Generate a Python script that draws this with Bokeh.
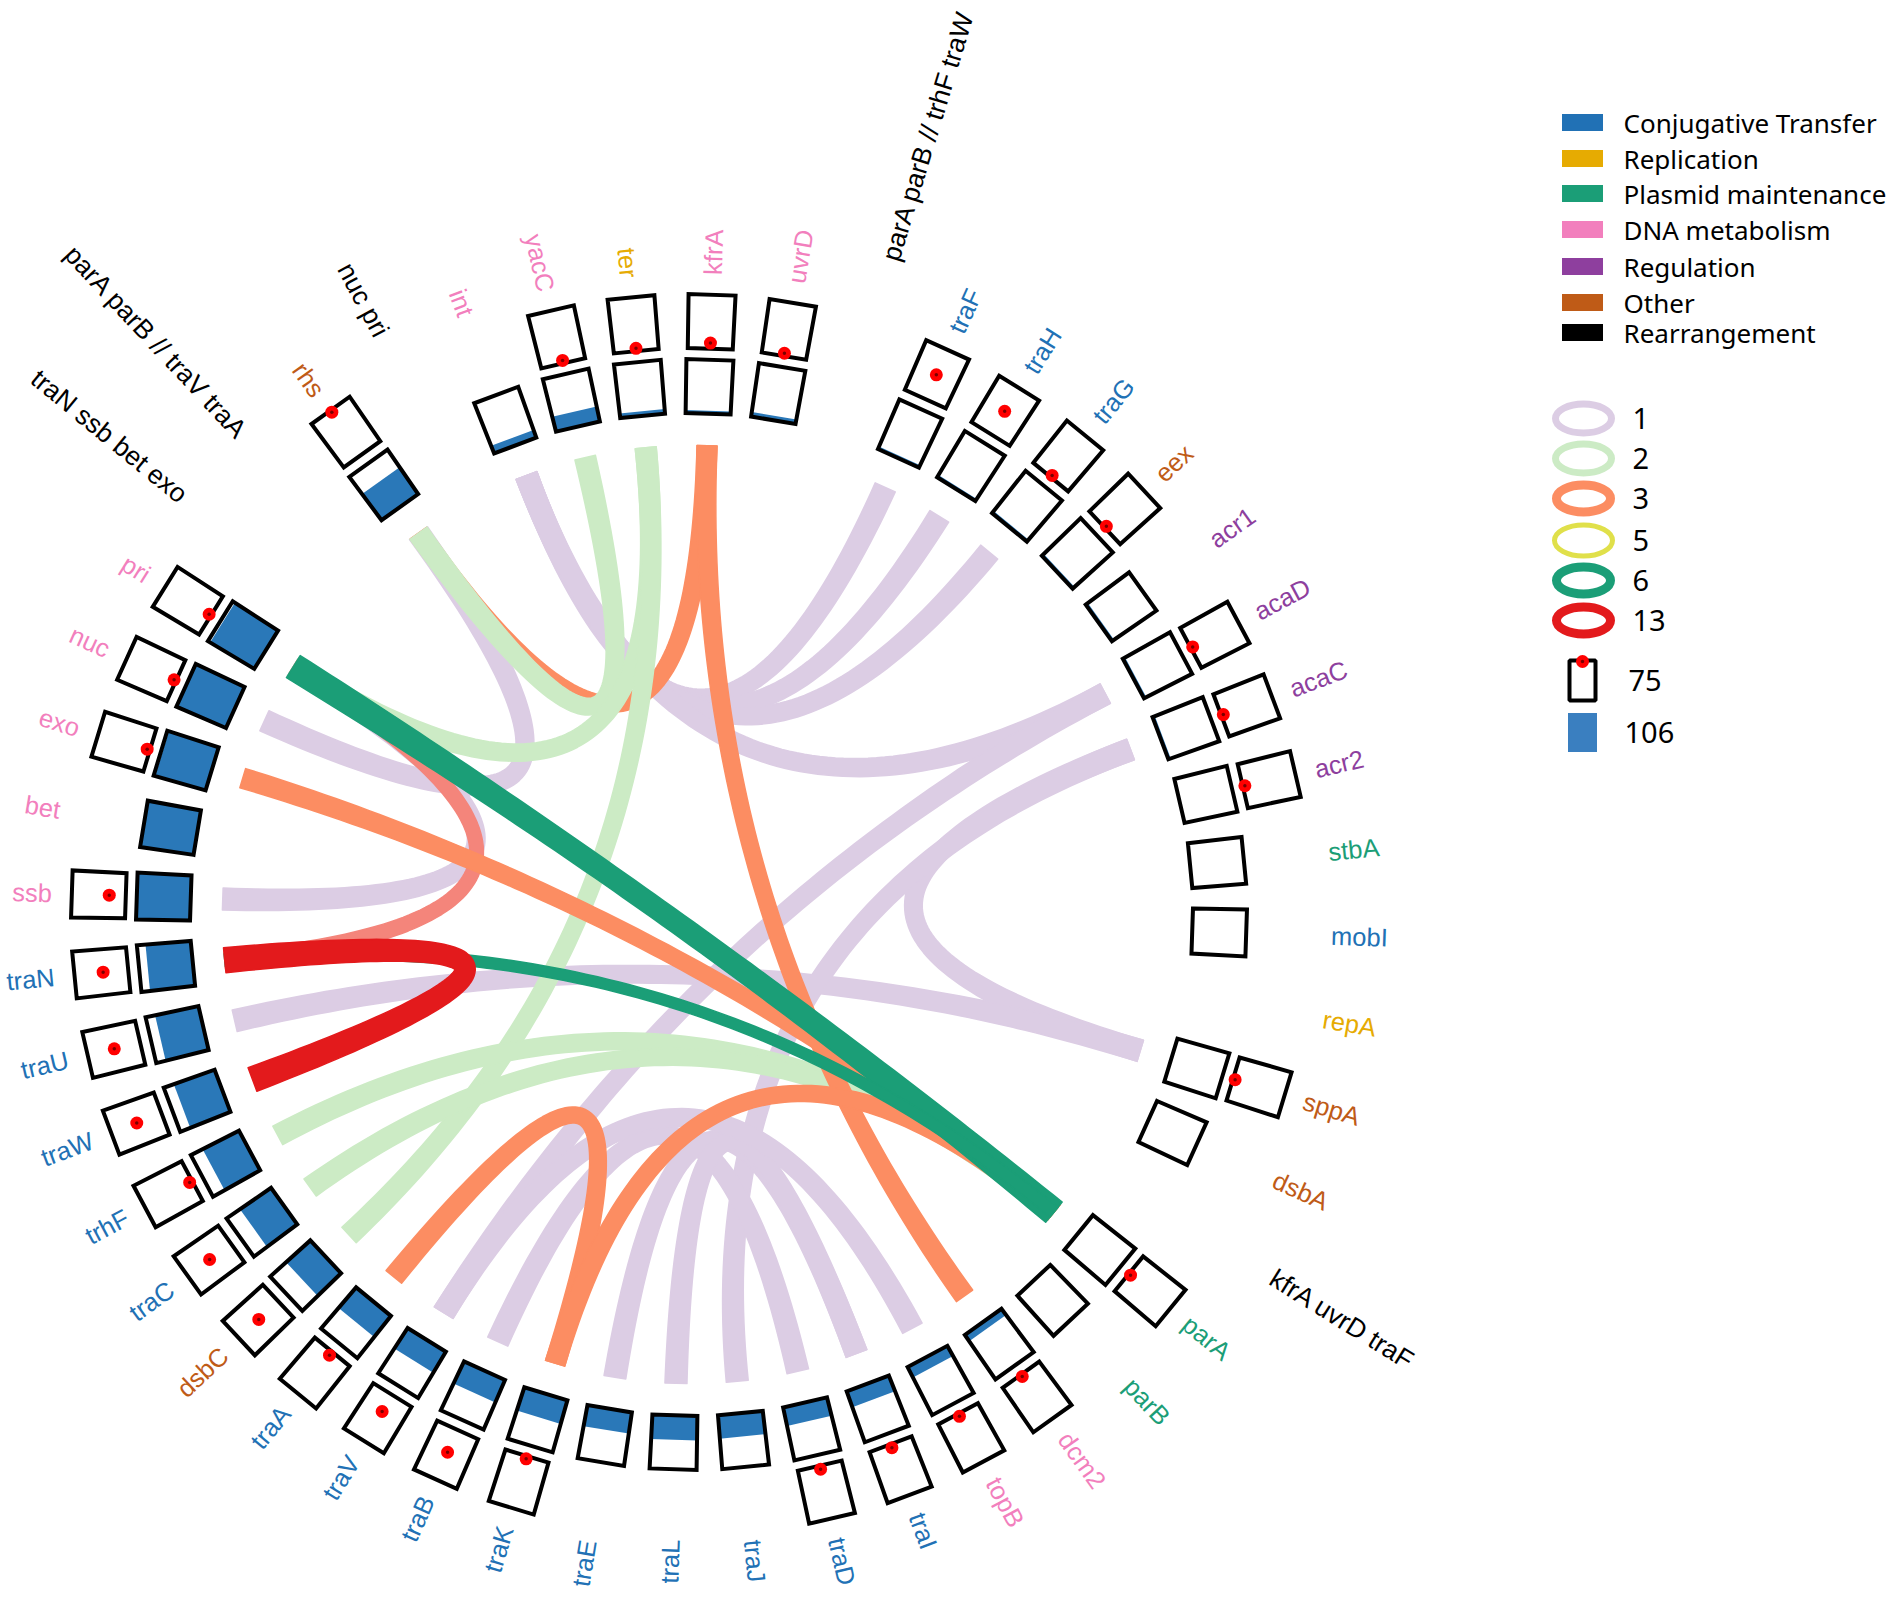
import math
import numpy as np
from bokeh.plotting import figure
from bokeh.models import Range1d, ColumnDataSource
from bokeh.embed import file_html
from bokeh.resources import INLINE
from bokeh.core.properties import value

# ---------------- data ----------------
slots = ["int", "yacC", "ter", "kfrA", "uvrD", "parA parB // trhF traW",
         "traF", "traH", "traG", "eex", "acr1", "acaD", "acaC", "acr2", "stbA",
         "mobI", "repA", "sppA", "dsbA", "kfrA uvrD traF", "parA", "parB",
         "dcm2", "topB", "traI", "traD", "traJ", "traL", "traE", "traK", "traB",
         "traV", "traA", "dsbC", "traC", "trhF", "traW", "traU", "traN", "ssb",
         "bet", "exo", "nuc", "pri", "traN ssb bet exo", "parA parB // traV traA",
         "rhs", "nuc pri"]
slot_cat = ["D", "D", "R", "D", "D", "X",
            "C", "C", "C", "O", "G", "G", "G", "G", "P",
            "C", "R", "O", "O", "X", "P", "P",
            "D", "D", "C", "C", "C", "C", "C", "C", "C",
            "C", "C", "O", "C", "C", "C", "C", "C", "D",
            "D", "D", "D", "D", "X", "X",
            "O", "X"]
# inner box: filled share (out of 106); None = no box
inner_count = [16, 30, 9, 6, 9, None,
               5, 5, 5, 5, 5, 5, 5, 2, 1,
               1, None, 1, 1, None, 2, 2,
               15, 23, 33, 37, 46, 48, 42, 48, 48,
               48, 53, 64, 74, 80, 85, 87, 89, 106,
               106, 103, 104, 101, None, None,
               64, None]
# outer box: red point value (out of 75); None = no box
outer_dot = [None, 4, 4, 8, 4, None,
             37, 37, 3, 3, None, 3, 3, 3, None,
             None, None, 3, None, None, 3, None,
             3, 4, 5, 5, None, None, None, 4, 34,
             27, 6, 37, 37, 4, 37, 37, 35, 23,
             None, 4, 3, 3, None, None,
             72, None]

links_1 = [("int", "traF"), ("int", "traH"), ("int", "traG"), ("int", "acaD"),
           ("acaC", "sppA"), ("sppA", "traU"), ("nuc", "rhs"), ("ssb", "pri"),
           ("acaD", "traV"), ("acaC", "traJ"), ("traB", "traD"), ("traE", "traI"),
           ("traL", "traI"), ("topB", "traV")]
links_2 = [("rhs", "yacC"), ("ter", "pri"), ("ter", "dsbC"), ("trhF", "parA"),
           ("traC", "parA")]
links_3_under = [("kfrA", "rhs")]
links_3 = [("exo", "parA"), ("kfrA", "dcm2"), ("traA", "traK"), ("traK", "parA")]
links_13_light = [("traN", "pri")]
links_6 = [("pri", "parA"), ("traN", "parA")]
links_13 = [("traN", "traW")]

cat_names = ["Conjugative Transfer", "Replication", "Plasmid maintenance",
             "DNA metabolism", "Regulation", "Other", "Rearrangement"]
cat_codes = ["C", "R", "P", "D", "G", "O", "X"]
link_counts = ["1", "2", "3", "5", "6", "13"]
box_legend = ["75", "106"]

# ---------------- style ----------------
cat_colors = {"C": "#2171b5", "R": "#e6ab02", "P": "#1b9e77", "D": "#f27fbd",
              "G": "#8e3f9e", "O": "#bf5b17", "X": "#000000"}
link_colors = ["#dccde4", "#ccebc5", "#fc8d62", "#e0e04a", "#1b9e77", "#e31a1c"]
link_ring_w = [7, 7, 9, 5, 9, 9]
BLUE = "#2a78b8"
CX, CY = 691, 914
THETA0, STEP = 110.6, 7.5
R_LINK = 469
R_IN = (501, 555)
R_OUT = (566, 620)
R_LABEL = 640
HW = 22.5
FONT = "Liberation Sans"
LFONT = "Noto Sans"
GENE_FS = 25.5
REAR_FS = 26.5

W, H = 1886, 1590
p = figure(width=W, height=H, output_backend="svg", toolbar_location=None,
           x_range=Range1d(-CX, W - CX), y_range=Range1d(CY - H, CY),
           min_border=0)
p.axis.visible = False
p.grid.visible = False
p.outline_line_color = None
p.background_fill_color = "white"
p.border_fill_color = "white"

idx = {n: i for i, n in enumerate(slots)}


def ang(name):
    return math.radians(THETA0 - STEP * idx[name])


def X(refx):
    return refx - CX


def Y(refy):
    return CY - refy


def ribbon(a, b, w, k=0.8, n=80):
    P0 = np.array([R_LINK * math.cos(a), R_LINK * math.sin(a)])
    P2 = np.array([R_LINK * math.cos(b), R_LINK * math.sin(b)])
    t = np.linspace(0, 1, n)[:, None]
    B = (1 - t) ** 2 * P0 + t ** 2 * P2
    dB = -2 * (1 - t) * P0 + 2 * t * P2
    nrm = np.hypot(dB[:, 0], dB[:, 1])[:, None]
    N = np.hstack([-dB[:, 1:2], dB[:, 0:1]]) / nrm
    wt = w * (1 - (1 - k) * np.sin(np.pi * t))
    L = B + N * wt / 2
    R = B - N * wt / 2
    poly = np.vstack([L, R[::-1]])
    return list(poly[:, 0]), list(poly[:, 1])


# ---- links ----
groups = [(links_1, link_colors[0], 22, None),
          (links_3_under, link_colors[2], 20, None),
          (links_2, link_colors[1], 21, None),
          (links_13_light, "#f4857b", 17, None),
          (links_3, link_colors[2], 20, None),
          (links_6, link_colors[4], 20, {("pri", "parA"): 26, ("traN", "parA"): 13}),
          (links_13, link_colors[5], 25, None)]
for links, col, w, over in groups:
    xs, ys = [], []
    for a, b in links:
        ww = over.get((a, b), w) if over else w
        px, py = ribbon(ang(a), ang(b), ww)
        xs.append(px)
        ys.append(py)
    p.patches(xs, ys, fill_color=col, line_color=col, line_width=1.5, line_join="round")

# ---- boxes ----


def boxpoly(th, r1, r2, h1=HW, h2=HW + 1):
    ux, uy = math.cos(th), math.sin(th)
    tx, ty = -math.sin(th), math.cos(th)
    pts = [(r1 * ux + h1 * tx, r1 * uy + h1 * ty), (r2 * ux + h2 * tx, r2 * uy + h2 * ty),
           (r2 * ux - h2 * tx, r2 * uy - h2 * ty), (r1 * ux - h1 * tx, r1 * uy - h1 * ty)]
    return [q[0] for q in pts], [q[1] for q in pts]


bx, by, fx, fy, dx, dy = [], [], [], [], [], []
for i, name in enumerate(slots):
    th = math.radians(THETA0 - STEP * i)
    if inner_count[i] is not None:
        xx, yy = boxpoly(th, *R_IN)
        bx.append(xx); by.append(yy)
        if inner_count[i] > 0:
            frac = inner_count[i] / 106
            r2 = R_IN[0] + (R_IN[1] - R_IN[0]) * frac
            xx, yy = boxpoly(th, R_IN[0], r2, HW, HW + frac)
            fx.append(xx); fy.append(yy)
    if outer_dot[i] is not None:
        xx, yy = boxpoly(th, *R_OUT)
        bx.append(xx); by.append(yy)
        r = R_OUT[0] + (R_OUT[1] - R_OUT[0]) * outer_dot[i] / 75
        dx.append(r * math.cos(th)); dy.append(r * math.sin(th))

p.patches(bx, by, fill_color="white", line_color=None)
p.patches(fx, fy, fill_color=BLUE, line_color=None)
p.patches(bx, by, fill_color=None, line_color="black", line_width=4, line_join="miter")
p.scatter(dx, dy, size=13, marker="circle", fill_color="#ff0000", line_color=None)
p.scatter(dx, dy, size=3.5, marker="circle", fill_color="#7a0000", line_color=None)

# ---- labels ----
bottom_limit = CY - H + 4   # keep rotated labels inside the frame
for align in ("left", "right"):
    for is_r in (False, True):
        tx, ty, tt, ta, tc = [], [], [], [], []
        for i, name in enumerate(slots):
            deg = (THETA0 - STEP * i) % 360
            right = deg <= 90 or deg > 270
            if (align == "left") != right or (slot_cat[i] == "X") != is_r:
                continue
            r = (684 if right else 657) if is_r else R_LABEL
            th = math.radians(deg)
            s = math.sin(th)
            if s < -0.5:
                est_w = 0.46 * GENE_FS * len(name)
                r = min(r, bottom_limit / s - est_w)
            tx.append(r * math.cos(th)); ty.append(r * s)
            tt.append(name)
            ta.append(th if right else th - math.pi)
            tc.append(cat_colors[slot_cat[i]])
        src = ColumnDataSource(dict(x=tx, y=ty, text=tt, angle=ta, color=tc))
        p.text("x", "y", text="text", angle="angle", text_color="color", source=src,
               text_align=align, text_baseline="middle", text_font=value(FONT),
               text_font_size=f"{REAR_FS if is_r else GENE_FS}px")

# ---- legend ----
leg_y = [122, 158, 193, 229, 266, 302, 332]
p.rect([X(1582)] * 7, [Y(v) for v in leg_y], width=41, height=17,
       fill_color=[cat_colors[c] for c in cat_codes], line_color=None)
p.text([X(1623)] * 7, [Y(v) for v in leg_y], text=cat_names, text_baseline="middle",
       text_font=value(LFONT), text_font_size="26px", text_color="#000000")

ring_y = [418, 458, 498, 540, 580, 620]
for yy, col, lw in zip(ring_y, link_colors, link_ring_w):
    p.ellipse(X(1583), Y(yy), width=63 - lw, height=36 - lw, fill_color=None,
              line_color=col, line_width=lw)
p.text([X(1632)] * 6, [Y(v) for v in ring_y], text=link_counts, text_baseline="middle",
       text_font=value(LFONT), text_font_size="29px", text_color="#000000")

p.rect([X(1582)], [Y(680)], width=26, height=40, fill_color=None, line_color="black",
       line_width=4)
p.scatter([X(1582)], [Y(661)], size=13, fill_color="#ff0000", line_color=None)
p.scatter([X(1582)], [Y(661)], size=3.5, fill_color="#7a0000", line_color=None)
p.rect([X(1582)], [Y(732)], width=29, height=39, fill_color="#3a7fc0", line_color=None)
p.text([X(1628), X(1624)], [Y(680), Y(732)], text=box_legend, text_baseline="middle",
       text_font=value(LFONT), text_font_size="29px", text_color="#000000")

open("out.html", "w").write(file_html(p, INLINE))
